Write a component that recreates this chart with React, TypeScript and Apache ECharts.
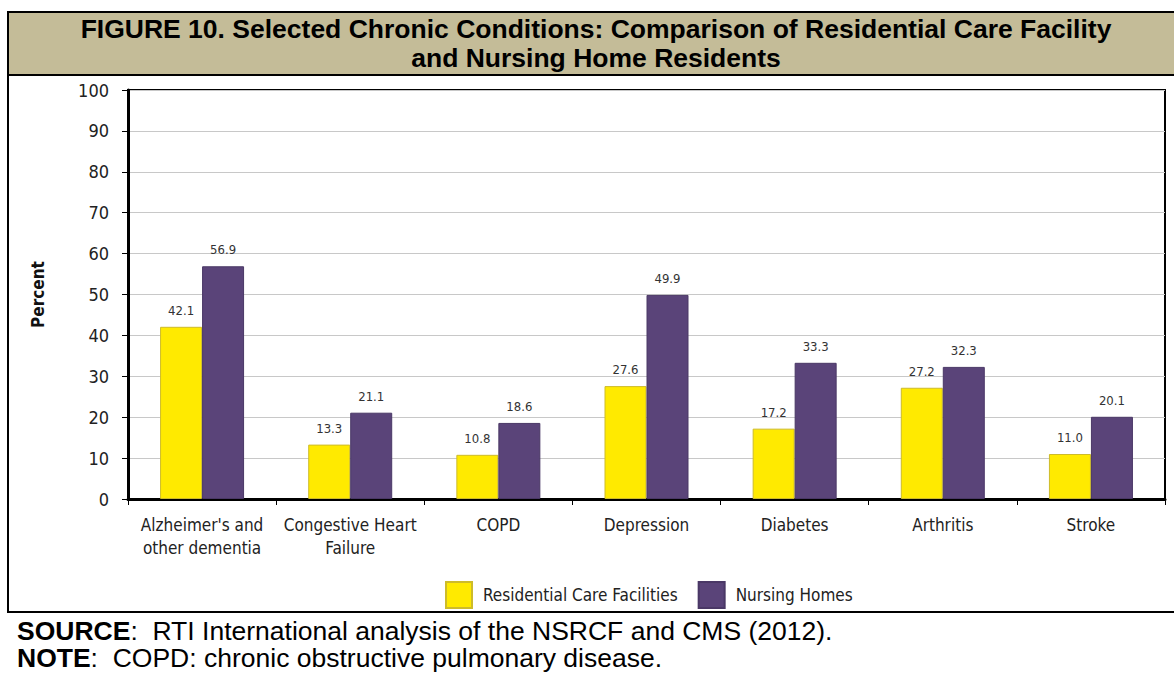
import React, { useEffect, useRef } from "react";
import * as echarts from "echarts";

const categories = [
  "Alzheimer's and\nother dementia",
  "Congestive Heart\nFailure",
  "COPD",
  "Depression",
  "Diabetes",
  "Arthritis",
  "Stroke",
];
const residentialCare = [42.1, 13.3, 10.8, 27.6, 17.2, 27.2, 11.0];
const nursingHomes = [56.9, 21.1, 18.6, 49.9, 33.3, 32.3, 20.1];
const seriesNames = ["Residential Care Facilities", "Nursing Homes"];
const titleLines = [
  "FIGURE 10. Selected Chronic Conditions: Comparison of Residential Care Facility",
  "and Nursing Home Residents",
];
const yAxisTitle = "Percent";
const footerLines = [
  "{b|SOURCE}:  RTI International analysis of the NSRCF and CMS (2012).",
  "{b|NOTE}:  COPD: chronic obstructive pulmonary disease.",
];

const COND = "'Liberation Sans Narrow', 'DejaVu Sans Condensed', 'Roboto Condensed', sans-serif";
const ARIAL = "'Liberation Sans', Arial, sans-serif";

export default function App() {
  const ref = useRef<HTMLDivElement>(null);
  useEffect(() => {
    if (!ref.current) return;
    const chart = echarts.init(ref.current, null, { renderer: "svg" });
    const labelCfg = {
      show: true,
      position: "top" as const,
      distance: 10,
      fontFamily: COND,
      fontSize: 13,
      color: "#333",
      formatter: (p: any) => Number(p.value).toFixed(1),
    };
    chart.setOption({
      animation: false,
      backgroundColor: "#fff",
      grid: {
        left: 128,
        top: 90,
        right: 9,
        bottom: 174,
        show: true,
        borderColor: "#000",
        borderWidth: 2,
        backgroundColor: "transparent",
      },
      legend: {
        left: 445,
        top: 581,
        padding: 0,
        itemWidth: 26,
        itemHeight: 26,
        itemGap: 20,
        icon: "rect",
        textStyle: { fontFamily: COND, fontSize: 17, color: "#222", padding: [0, 0, 0, 6] },
        data: seriesNames,
      },
      xAxis: {
        type: "category",
        data: categories,
        axisLine: { lineStyle: { color: "#000", width: 3 } },
        axisTick: { show: true, length: 6, lineStyle: { color: "#000", width: 1 } },
        axisLabel: {
          fontFamily: COND,
          fontSize: 17,
          color: "#222",
          margin: 14,
          lineHeight: 23,
          interval: 0,
        },
      },
      yAxis: {
        type: "value",
        min: 0,
        max: 100,
        interval: 10,
        name: yAxisTitle,
        nameLocation: "middle",
        nameGap: 82,
        nameTextStyle: { fontFamily: COND, fontSize: 17, fontWeight: "bold", color: "#111" },
        axisLine: { show: true, lineStyle: { color: "#000", width: 3 } },
        axisTick: { show: true, length: 6, lineStyle: { color: "#000" } },
        axisLabel: { fontFamily: COND, fontSize: 18, color: "#222", margin: 19 },
        splitLine: { lineStyle: { color: "#c8c8c8", width: 1 } },
      },
      series: [
        {
          name: seriesNames[0],
          type: "bar",
          data: residentialCare,
          barWidth: 42,
          barGap: "0%",
          itemStyle: { color: "#FFEA00", borderColor: "#CDBB2A", borderWidth: 1 },
          label: labelCfg,
        },
        {
          name: seriesNames[1],
          type: "bar",
          data: nursingHomes,
          barWidth: 42,
          itemStyle: { color: "#5A4479", borderColor: "#4A3866", borderWidth: 1 },
          label: labelCfg,
        },
      ],
      graphic: [
        {
          type: "rect",
          shape: { x: 8, y: 12, width: 1180, height: 63 },
          style: { fill: "#C4BC98", stroke: "#000", lineWidth: 2 },
          z: 10,
        },
        {
          type: "text",
          x: 596,
          y: 43.5,
          style: {
            text: titleLines.join("\n"),
            fontFamily: ARIAL,
            fontWeight: "bold",
            fontSize: 26.5,
            lineHeight: 29,
            fill: "#000",
            align: "center",
            verticalAlign: "middle",
          },
          z: 11,
        },
        {
          type: "line",
          shape: { x1: 8, y1: 75, x2: 8, y2: 613 },
          style: { stroke: "#000", lineWidth: 2 },
          z: 10,
        },
        {
          type: "line",
          shape: { x1: 7, y1: 612, x2: 1174, y2: 612 },
          style: { stroke: "#000", lineWidth: 2 },
          z: 10,
        },
        {
          type: "text",
          x: 17,
          y: 644.5,
          style: {
            text: footerLines.join("\n"),
            fontFamily: ARIAL,
            fontSize: 26.5,
            lineHeight: 27,
            fill: "#000",
            verticalAlign: "middle",
            rich: {
              b: { fontFamily: ARIAL, fontSize: 26.5, lineHeight: 27, fontWeight: "bold", fill: "#000" },
            },
          },
          z: 11,
        },
      ],
    });
    return () => chart.dispose();
  }, []);
  return (
    <div
      ref={ref}
      style={{ position: "fixed", left: 0, top: 0, width: 1174, height: 673 }}
    />
  );
}
